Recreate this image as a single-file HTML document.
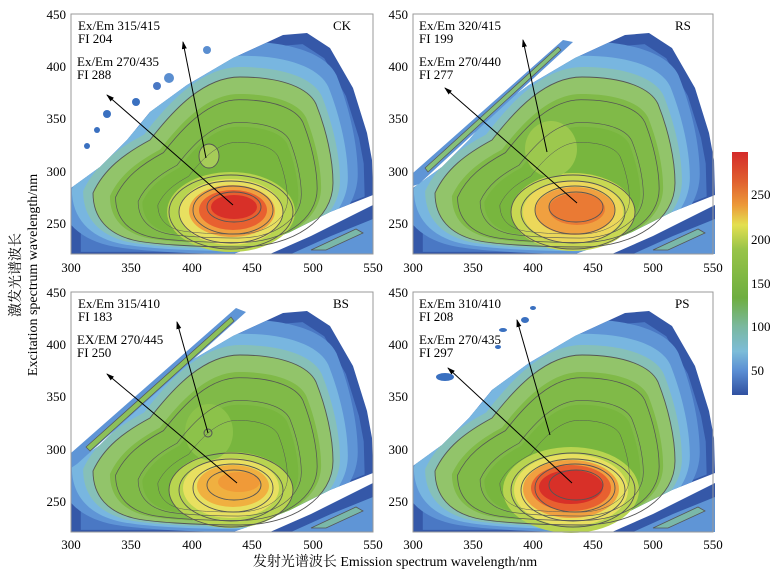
<!DOCTYPE html>
<html><head><meta charset="utf-8"><style>
body{margin:0;background:#fff;}
svg{display:block;font-family:"Liberation Serif","Noto Serif CJK SC",serif;}
</style></head><body>
<svg width="781" height="573" viewBox="0 0 781 573" xmlns="http://www.w3.org/2000/svg">
<defs>
<path id="outer" d="M0,174 L29,153 L56,126 L79,98 L116,71 L162,44 L212,21 L236,19 L259,34 L282,74 L296,119 L301,146 L302,181 L259,198 L219,218 L182,233 L162,240 L0,240 Z"/>
<path id="strip" d="M302,191 L302,240 L199,240 L240,222 L280,202 Z"/>
<path id="S" d="M-141,-26 C-130,-50 -110,-65 -84,-79 C-60,-110 -30,-142 6,-142 C50,-142 75,-130 82,-115 C92,-90 99,-60 99,-36 C99,0 60,28 6,28 C-40,28 -85,25 -101,21 C-125,15 -141,0 -141,-26 Z"/>
<clipPath id="cp"><use href="#outer"/></clipPath>
<clipPath id="box"><rect x="0" y="0" width="302" height="240"/></clipPath>
<linearGradient id="cb" x1="0" y1="0" x2="0" y2="1">
<stop offset="0" stop-color="#d42a2a"/><stop offset="0.12" stop-color="#e0602e"/><stop offset="0.22" stop-color="#ec9a38"/><stop offset="0.3" stop-color="#e4e050"/><stop offset="0.4" stop-color="#98c448"/><stop offset="0.6" stop-color="#6eae40"/><stop offset="0.72" stop-color="#7ab8a0"/><stop offset="0.82" stop-color="#7cbcd8"/><stop offset="0.9" stop-color="#5a8ed4"/><stop offset="1" stop-color="#3050a0"/>
</linearGradient>
<marker id="ah" markerWidth="8" markerHeight="8" refX="7" refY="4" orient="auto" markerUnits="userSpaceOnUse"><path d="M0,1.5 L8,4 L0,6.5 Z" fill="#000"/></marker>
<g id="base">
<g clip-path="url(#box)">
<use href="#outer" fill="#3558a8"/>
<use href="#strip" fill="#3558a8"/>
<path d="M302,205 L302,240 L220,240 L260,222 Z" fill="#5f95d6"/>
<path d="M285,215 L240,236 L255,236 L292,219 Z" fill="#7ab8a8" stroke="#555" stroke-width="0.8"/>
<g clip-path="url(#cp)">
<use href="#outer" transform="translate(163,205) scale(0.94) translate(-163,-205)" fill="#4a78c4"/>
<use href="#S" transform="translate(163,205) scale(1.25)" fill="#5f95d6"/>
<use href="#S" transform="translate(163,205) scale(1.15)" fill="#78b6e0"/>
<use href="#S" transform="translate(163,205) scale(1.07)" fill="#86c0b8"/>
<use href="#S" transform="translate(163,205) scale(1.0)" fill="#92c46a"/>
<use href="#S" transform="translate(163,205) scale(0.88)" fill="#80ba48"/>
<use href="#S" transform="translate(163,205) scale(0.65)" fill="#78b63e"/>
</g>
</g>
</g>
<g id="lines" fill="none" stroke="#555" stroke-width="0.9">
<use href="#S" transform="translate(163,205) scale(1.0)"/>
<use href="#S" transform="translate(163,205) scale(0.84)"/>
<use href="#S" transform="translate(163,205) scale(0.68)"/>
<use href="#S" transform="translate(163,205) scale(0.54)"/>
<ellipse cx="160" cy="198" rx="62" ry="37"/>
<ellipse cx="160" cy="198" rx="52" ry="31"/>
<ellipse cx="162" cy="196" rx="40" ry="24"/>
<ellipse cx="163" cy="193" rx="27" ry="15"/>
</g>
</defs>

<!-- TL CK -->
<g transform="translate(71,14)">
<use href="#base"/>
<g transform="translate(-14,2)"><circle cx="79" cy="86" r="4" fill="#3a70c0"/><circle cx="100" cy="70" r="4" fill="#4a78c4"/><circle cx="112" cy="62" r="5" fill="#5a8ed0"/><circle cx="150" cy="34" r="4" fill="#5a8ed0"/><circle cx="50" cy="98" r="4" fill="#3a70c0"/><circle cx="40" cy="114" r="3" fill="#3a70c0"/><circle cx="30" cy="130" r="3" fill="#3a70c0"/></g>
<ellipse cx="160" cy="198" rx="64" ry="40" fill="#b8d450"/>
<ellipse cx="160" cy="198" rx="52" ry="33" fill="#e8e060"/>
<ellipse cx="161" cy="197" rx="43" ry="26" fill="#f0a040"/>
<ellipse cx="162" cy="196" rx="34" ry="20" fill="#e86030"/>
<ellipse cx="163" cy="193" rx="23" ry="12" fill="#d83028"/>
<ellipse cx="138" cy="142" rx="10" ry="12" fill="#a6cc58" stroke="#555" stroke-width="0.9"/>
<use href="#lines"/>
<line x1="135" y1="144" x2="112" y2="28" stroke="#000" stroke-width="1" marker-end="url(#ah)"/>
<line x1="162" y1="191" x2="36" y2="81" stroke="#000" stroke-width="1" marker-end="url(#ah)"/>
<rect x="0" y="0" width="302" height="240" fill="none" stroke="#999" stroke-width="1"/>
<text x="7" y="16" font-size="13">Ex/Em 315/415</text><text x="7" y="29" font-size="13">FI 204</text>
<text x="6" y="52" font-size="13">Ex/Em 270/435</text><text x="6" y="65" font-size="13">FI 288</text>
<text x="262" y="16" font-size="13">CK</text>
</g>

<!-- TR RS -->
<g transform="translate(413,14)">
<use href="#base"/>
<path d="M0,159 L150,26 L160,28 L6,170 L0,172 Z" fill="#5f95d6"/>
<path d="M12,154 L145,33 L148,36 L15,158 Z" fill="#86c07a" stroke="#555" stroke-width="0.7"/>
<ellipse cx="160" cy="198" rx="62" ry="39" fill="#c8d852"/>
<ellipse cx="160" cy="198" rx="50" ry="31" fill="#ecd85a"/>
<ellipse cx="162" cy="197" rx="40" ry="24" fill="#f0a040"/>
<ellipse cx="164" cy="195" rx="28" ry="16" fill="#ea7a34"/>
<ellipse cx="138" cy="135" rx="26" ry="28" fill="#9cc84e"/>
<use href="#lines"/>
<line x1="134" y1="138" x2="110" y2="26" stroke="#000" stroke-width="1" marker-end="url(#ah)"/>
<line x1="164" y1="189" x2="32" y2="74" stroke="#000" stroke-width="1" marker-end="url(#ah)"/>
<rect x="0" y="0" width="300" height="240" fill="none" stroke="#999" stroke-width="1"/>
<text x="6" y="16" font-size="13">Ex/Em 320/415</text><text x="6" y="29" font-size="13">FI 199</text>
<text x="6" y="52" font-size="13">Ex/Em 270/440</text><text x="6" y="65" font-size="13">FI 277</text>
<text x="262" y="16" font-size="13">RS</text>
</g>

<!-- BL BS -->
<g transform="translate(71,292)">
<use href="#base"/>
<path d="M0,161 L165,16 L175,20 L6,172 L0,176 Z" fill="#5f95d6"/>
<path d="M15,155 L160,25 L163,29 L19,159 Z" fill="#8cc05a" stroke="#555" stroke-width="0.7"/>
<ellipse cx="160" cy="198" rx="62" ry="38" fill="#b8d450"/>
<ellipse cx="160" cy="196" rx="48" ry="30" fill="#e8e060"/>
<ellipse cx="162" cy="194" rx="36" ry="21" fill="#f0b040"/>
<ellipse cx="168" cy="190" rx="21" ry="10" fill="#f09a38"/>
<ellipse cx="138" cy="140" rx="24" ry="28" fill="#8cc24a"/>
<use href="#lines"/>
<circle cx="137" cy="141" r="4" fill="none" stroke="#555"/>
<line x1="137" y1="141" x2="106" y2="30" stroke="#000" stroke-width="1" marker-end="url(#ah)"/>
<line x1="166" y1="191" x2="36" y2="82" stroke="#000" stroke-width="1" marker-end="url(#ah)"/>
<rect x="0" y="0" width="302" height="240" fill="none" stroke="#999" stroke-width="1"/>
<text x="7" y="16" font-size="13">Ex/Em 315/410</text><text x="7" y="29" font-size="13">FI 183</text>
<text x="6" y="52" font-size="13">EX/EM 270/445</text><text x="6" y="65" font-size="13">FI 250</text>
<text x="262" y="16" font-size="13">BS</text>
</g>

<!-- BR PS -->
<g transform="translate(413,292)">
<use href="#base"/>
<ellipse cx="90" cy="38" rx="4" ry="2" fill="#3a70c0"/><ellipse cx="112" cy="28" rx="4" ry="3" fill="#3a70c0"/><ellipse cx="120" cy="16" rx="3" ry="2" fill="#3a70c0"/><ellipse cx="85" cy="55" rx="3" ry="2" fill="#3a70c0"/><ellipse cx="32" cy="85" rx="9" ry="4" fill="#3a70c0"/>
<ellipse cx="158" cy="198" rx="68" ry="43" fill="#b8d450"/>
<ellipse cx="158" cy="198" rx="57" ry="36" fill="#e8e060"/>
<ellipse cx="158" cy="197" rx="48" ry="29" fill="#f0a040"/>
<ellipse cx="158" cy="196" rx="40" ry="23" fill="#e86030"/>
<ellipse cx="158" cy="195" rx="32" ry="17" fill="#d83028"/>
<use href="#lines"/>
<line x1="137" y1="143" x2="104" y2="28" stroke="#000" stroke-width="1" marker-end="url(#ah)"/>
<line x1="159" y1="191" x2="35" y2="76" stroke="#000" stroke-width="1" marker-end="url(#ah)"/>
<rect x="0" y="0" width="300" height="240" fill="none" stroke="#999" stroke-width="1"/>
<text x="6" y="16" font-size="13">Ex/Em 310/410</text><text x="6" y="29" font-size="13">FI 208</text>
<text x="6" y="52" font-size="13">Ex/Em 270/435</text><text x="6" y="65" font-size="13">FI 297</text>
<text x="262" y="16" font-size="13">PS</text>
</g>

<g font-size="13" text-anchor="middle">
<text x="71" y="272">300</text><text x="131" y="272">350</text><text x="192" y="272">400</text><text x="252" y="272">450</text><text x="313" y="272">500</text><text x="373" y="272">550</text>
<text x="413" y="272">300</text><text x="473" y="272">350</text><text x="533" y="272">400</text><text x="593" y="272">450</text><text x="653" y="272">500</text><text x="713" y="272">550</text>
<text x="71" y="549">300</text><text x="131" y="549">350</text><text x="192" y="549">400</text><text x="252" y="549">450</text><text x="313" y="549">500</text><text x="373" y="549">550</text>
<text x="413" y="549">300</text><text x="473" y="549">350</text><text x="533" y="549">400</text><text x="593" y="549">450</text><text x="653" y="549">500</text><text x="713" y="549">550</text>
</g>
<g font-size="13" text-anchor="end">
<text x="66" y="19">450</text><text x="66" y="71">400</text><text x="66" y="123">350</text><text x="66" y="176">300</text><text x="66" y="228">250</text>
<text x="408" y="19">450</text><text x="408" y="71">400</text><text x="408" y="123">350</text><text x="408" y="176">300</text><text x="408" y="228">250</text>
<text x="66" y="297">450</text><text x="66" y="349">400</text><text x="66" y="401">350</text><text x="66" y="454">300</text><text x="66" y="506">250</text>
<text x="408" y="297">450</text><text x="408" y="349">400</text><text x="408" y="401">350</text><text x="408" y="454">300</text><text x="408" y="506">250</text>
</g>
<text x="395" y="566" font-size="14" text-anchor="middle">发射光谱波长 Emission spectrum wavelength/nm</text>
<text transform="translate(20,275) rotate(-90)" font-size="14" text-anchor="middle">激发光谱波长</text>
<text transform="translate(37,275) rotate(-90)" font-size="14" text-anchor="middle">Excitation spectrum wavelength/nm</text>

<rect x="732" y="152" width="16" height="243" fill="url(#cb)"/>
<g font-size="13">
<text x="751" y="199">250</text><text x="751" y="244">200</text><text x="751" y="288">150</text><text x="751" y="331">100</text><text x="751" y="375">50</text>
</g>
</svg>
</body></html>
